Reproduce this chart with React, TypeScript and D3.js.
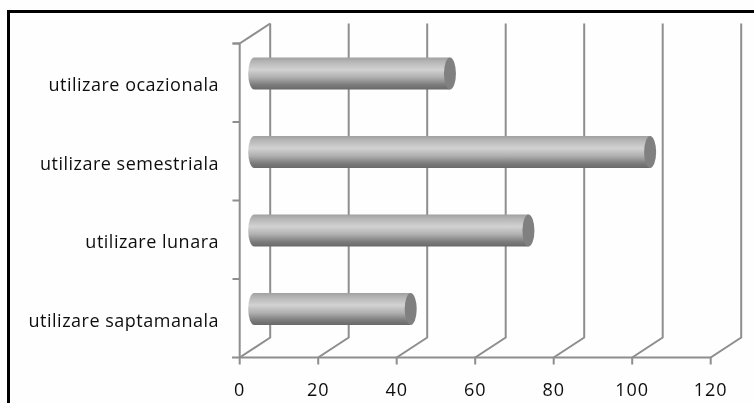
import React from "react";
import * as d3 from "d3";

const categories = ["utilizare saptamanala", "utilizare lunara", "utilizare semestriala", "utilizare ocazionala"];
const values = [40, 70, 101, 50];
const ticks = [0, 20, 40, 60, 80, 100, 120];

const W = 754, H = 403;
const x = d3.scaleLinear().domain([0, 120]).range([239.7, 710.7]);
const y = d3.scaleBand<string>().domain(categories).range([357.5, 43.5]).padding(0);
const depthX = 30.5, depthY = -20;
const barOffset = 14.5;
const barShift = -9.25;
const rx = 6;
const axisColor = "#8e8e8e";
const font = "'Open Sans', Lato, sans-serif";

export default function App() {
  const bw = y.bandwidth();
  return (
    <svg width={W} height={H} viewBox={`0 0 ${W} ${H}`} style={{ position: "absolute", left: 0, top: 0, background: "#fefefe" }}>
      <defs>
        <linearGradient id="cyl" x1="0" x2="0" y1="0" y2="1">
          <stop offset="0" stopColor="#a0a0a0" />
          <stop offset="0.12" stopColor="#b4b4b4" />
          <stop offset="0.38" stopColor="#d2d2d2" />
          <stop offset="0.62" stopColor="#b0b0b0" />
          <stop offset="0.85" stopColor="#7c7c7c" />
          <stop offset="1" stopColor="#686868" />
        </linearGradient>
        <filter id="soft" x="-5%" y="-5%" width="110%" height="110%">
          <feGaussianBlur stdDeviation="0.45" />
        </filter>
      </defs>
      <g filter="url(#soft)">
        <path d={`M8.5 ${H}V11.5H${W}`} fill="none" stroke="#000" strokeWidth={3} />
        {ticks.map((t) => (
          <g key={t}>
            <path
              d={`M${x(t)} 364.5V357.5L${x(t) + depthX} ${357.5 + depthY}V23.5`}
              fill="none"
              stroke={axisColor}
              strokeWidth={2}
            />
            <text x={x(t)} y={395.5} textAnchor="middle" fontFamily={font} fontSize={18} letterSpacing={1} fill="#111">
              {t}
            </text>
          </g>
        ))}
        <path d={`M232 357.5H${x(120)}`} fill="none" stroke={axisColor} strokeWidth={2} />
        <path d={`M239.7 357.5V43.5L${239.7 + depthX} 23.5`} fill="none" stroke={axisColor} strokeWidth={2} />
        {[...categories.map((c) => y(c)!), 43.5].map((p, i) => (
          <path key={i} d={`M232.5 ${p}H239.7`} stroke={axisColor} strokeWidth={2} />
        ))}
        {categories.map((c, i) => {
          const h = 32;
          const mid = y(c)! + bw / 2 + barShift;
          const top = mid - h / 2;
          const x0 = x(0) + barOffset;
          const x1 = x(values[i]) + barOffset - 0.5;
          return (
            <g key={c}>
              <path
                d={`M${x0} ${top}H${x1}V${top + h}H${x0}A${rx} ${h / 2} 0 0 1 ${x0} ${top}Z`}
                fill="url(#cyl)"
              />
              <ellipse cx={x1} cy={mid} rx={rx} ry={h / 2} fill="#808080" />
              <text x={219} y={y(c)! + bw / 2 + 8.5} textAnchor="end" fontFamily={font} fontSize={18} letterSpacing={0.5} fill="#111">
                {c}
              </text>
            </g>
          );
        })}
      </g>
    </svg>
  );
}
